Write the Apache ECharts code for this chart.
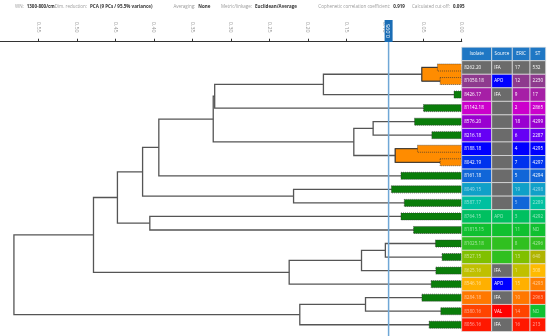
<!DOCTYPE html>
<html>
<head>
<meta charset="utf-8">
<script src="https://cdn.jsdelivr.net/npm/echarts@6/dist/echarts.min.js"></script>
<style>
html,body{margin:0;padding:0;background:#fff;}
#chart{width:550px;height:336px;}
</style>
</head>
<body>
<div id="chart"></div>
<script>
// ---------------- data ----------------
const isolates = ['8262.20','81050.18','8426.17','81142.18','8576.20','8216.18','8188.18','8042.19','8161.18','8049.15','8587.17','8764.15','81815.15','81025.18','8527.15','8625.16','8546.16','8284.18','8380.16','8056.16'];
const sources = ['IFA','APO','IFA','','','','','','','','','APO','','','','IFA','APO','IFA','VAL','IFA'];
const erics = ['17','12','9','2','18','6','4','7','5','19','5','3','11','8','13','1','15','10','14','16'];
const sts = ['532','2230','17','2865','4299','2287','4295','4297','4294','4298','2289','4292','ND','4296','640','308','4293','2963','ND','213'];
const tableHeaders = ['Isolate','Source','ERIC','ST'];
// distance at which each leaf's own bar starts
const leafSpread = [0.0315,0.028,0.010,0.0497,0.0613,0.0388,0.0574,0.028,0.0789,0.0914,0.0746,0.0789,0.0626,0.0341,0.0255,0.0336,0.0397,0.0517,0.0272,0.0423];
// linkage: [childA, childB, distance]; leaves 0..19, internal nodes 20..
const linkage = [
  [0, 1, 0.0517],
  [6, 7, 0.0863],
  [13, 14, 0.0992],
  [4, 5, 0.1151],
  [17, 18, 0.1250],
  [22, 15, 0.1302],
  [23, 21, 0.1402],
  [20, 2, 0.1797],
  [24, 19, 0.2104],
  [9, 10, 0.2185],
  [25, 16, 0.2242],
  [27, 3, 0.3210],
  [31, 26, 0.3229],
  [32, 8, 0.3936],
  [11, 12, 0.4053],
  [33, 29, 0.4147],
  [35, 34, 0.4474],
  [36, 30, 0.4785],
  [37, 28, 0.5819]
];
const cutoff = 0.095;
const axisMin = 0, axisMax = 0.6, axisInterval = 0.05;
const infoLabels = ['WN:', 'Dim. reduction:', 'Averaging:', 'Metric/linkage:', 'Cophenetic correlation coefficient:', 'Calculated cut-off:'];
const infoValues = ['1300-800/cm', 'PCA (9 PCs / 95.5% variance)', 'None', 'Euclidean/Average', '0.919', '0.095'];

// ---------------- styles / layout ----------------
const isolateColors = ['#6b6b6b','#8e3a8e','#a61fa6','#cc00cc','#9a00d0','#6600f5','#0000ff','#0033ee','#1166d8','#10a0c8','#00c0a0','#00c060','#10c030','#30c020','#80c000','#c0c000','#ffb000','#ff7800','#ff4400','#ff1800'];
const sourceColors = ['#6b6b6b','#0000ff','#6b6b6b','#6b6b6b','#6b6b6b','#6b6b6b','#6b6b6b','#6b6b6b','#6b6b6b','#6b6b6b','#6b6b6b','#00c060','#10c030','#30c020','#30c020','#6b6b6b','#0000ff','#6b6b6b','#ff0000','#6b6b6b'];
const ericColors = ['#6b6b6b','#8e3a8e','#a61fa6','#cc00cc','#9a00d0','#6600f5','#0000ff','#0033ee','#1166d8','#10a0c8','#1166d8','#00c060','#10c030','#30c020','#80c000','#c0c000','#ffb000','#ff7800','#ff4400','#ff1800'];
const stColors = ['#6b6b6b','#8e3a8e','#a61fa6','#cc00cc','#9a00d0','#6600f5','#0000ff','#0033ee','#1166d8','#10a0c8','#00c0a0','#00c060','#10c030','#30c020','#b0b400','#ffba00','#ff8000','#ff4000','#10c030','#ff1800'];
const infoValueX = [26.7, 90, 198.3, 255, 393.3, 453];
const colWidths = [30, 20.6, 17.7, 15.7];
const FONT = 'Open Sans';

// ---------------- tree geometry (value space) ----------------
const n = isolates.length;
const nodeY = [], nodeH = [], nodeLeaves = [];
for (let i = 0; i < n; i++) { nodeY[i] = i; nodeH[i] = 0; nodeLeaves[i] = [i]; }
linkage.forEach((m, k) => {
  nodeY[n + k] = (nodeY[m[0]] + nodeY[m[1]]) / 2;
  nodeH[n + k] = m[2];
  nodeLeaves[n + k] = nodeLeaves[m[0]].concat(nodeLeaves[m[1]]);
});
const parentH = {};
linkage.forEach((m, k) => { parentH[m[0]] = m[2]; parentH[m[1]] = m[2]; });
const clusterNodes = [];
const inCluster = new Array(n).fill(false);
linkage.forEach((m, k) => {
  const id = n + k;
  if (m[2] < cutoff && (parentH[id] === undefined || parentH[id] >= cutoff)) {
    clusterNodes.push(k);
    nodeLeaves[id].forEach(l => inCluster[l] = true);
  }
});

const tableCells = [];
for (let r = -1; r < n; r++) for (let c = 0; c < 4; c++) tableCells.push([c, r]);

const chart = echarts.init(document.getElementById('chart'), null, {renderer: 'canvas'});

const graphics = [];
infoLabels.forEach((t, i) => {
  graphics.push({type: 'text', x: infoValueX[i] - 3, y: 6.5, silent: true,
    style: {text: t, fill: '#9a9a9a', fontSize: 4.5, fontFamily: FONT, verticalAlign: 'middle', align: 'right'}});
  graphics.push({type: 'text', x: infoValueX[i], y: 6.5, silent: true,
    style: {text: infoValues[i], fill: '#333', fontSize: 4.5, fontWeight: 'bold', fontFamily: FONT, verticalAlign: 'middle', align: 'left'}});
});

const option = {
  animation: false,
  backgroundColor: '#fff',
  graphic: graphics,
  grid: {left: -2.3, right: 88.3, top: 60.73, height: 270.8, containLabel: false},
  xAxis: {
    type: 'value', inverse: true, min: axisMin, max: axisMax, interval: axisInterval,
    position: 'top', offset: 19,
    axisLine: {show: true, onZero: false, lineStyle: {color: '#333', width: 1.2}},
    axisTick: {show: true, length: 3, lineStyle: {color: '#333', width: 1}},
    axisLabel: {show: true, rotate: 90, margin: 9, fontSize: 5.5, color: '#9a9a9a', fontFamily: FONT,
      showMaxLabel: false, formatter: v => v.toFixed(2)},
    splitLine: {show: false}
  },
  yAxis: {type: 'value', inverse: true, min: -0.5, max: n - 0.5, show: false},
  series: [
    {
      // dendrogram branches
      type: 'custom', silent: true, clip: false, z: 2,
      data: linkage.map((m, k) => [m[2], nodeY[n + k]]),
      renderItem: (params, api) => {
        const m = linkage[params.dataIndex];
        const a = m[0], b = m[1], h = m[2];
        const pts = [
          api.coord([nodeH[a], nodeY[a]]),
          api.coord([h, nodeY[a]]),
          api.coord([h, nodeY[b]]),
          api.coord([nodeH[b], nodeY[b]])
        ];
        return {type: 'polyline', shape: {points: pts}, style: {stroke: '#555', lineWidth: 1.3, fill: null}};
      }
    },
    {
      // cluster boxes (below cut-off)
      type: 'custom', silent: true, clip: false, z: 3,
      data: clusterNodes.map(k => [linkage[k][2], nodeY[n + k]]),
      renderItem: (params, api) => {
        const k = clusterNodes[params.dataIndex];
        const m = linkage[k];
        const p1 = api.coord([m[2], nodeY[m[0]]]);
        const p2 = api.coord([0, nodeY[m[1]]]);
        return {type: 'rect', shape: {x: p1[0], y: p1[1], width: p2[0] - p1[0], height: p2[1] - p1[1]},
          style: {fill: '#ff8c00', stroke: '#333', lineWidth: 0.9}};
      }
    },
    {
      // leaf bars
      type: 'custom', silent: true, clip: false, z: 4,
      data: leafSpread.map((v, i) => [v, i]),
      renderItem: (params, api) => {
        const i = params.dataIndex;
        const p1 = api.coord([leafSpread[i], i]);
        const p2 = api.coord([0, i]);
        return {type: 'rect', shape: {x: p1[0], y: p1[1] - 3.5, width: p2[0] - p1[0], height: 7},
          style: {fill: inCluster[i] ? '#ff8c00' : '#0a7d0a', stroke: '#333', lineWidth: 0.7, lineDash: [1, 1]}};
      }
    },
    {
      // table
      type: 'custom', silent: true, clip: false, z: 5,
      data: tableCells,
      renderItem: (params, api) => {
        const c = tableCells[params.dataIndex][0], r = tableCells[params.dataIndex][1];
        const x0 = api.coord([0, 0])[0];
        let x = x0;
        for (let j = 0; j < c; j++) x += colWidths[j];
        const w = colWidths[c];
        const yc = api.coord([0, r])[1];
        const h = api.size([0, 1])[1];
        let fill, text, tcol = '#fff', align = 'left', tx = x + 2.5;
        if (r < 0) {
          fill = '#1f77c4'; text = tableHeaders[c]; align = 'center'; tx = x + w / 2;
        } else {
          const cols = [isolateColors, sourceColors, ericColors, stColors][c];
          const txts = [isolates, sources, erics, sts][c];
          fill = cols[r]; text = txts[r];
          const isNeutral = (c === 1 && (fill === '#6b6b6b' || fill === '#0000ff' || fill === '#ff0000'));
          if (r >= 9 && !isNeutral) tcol = 'rgba(255,255,255,0.6)';
        }
        return {type: 'group', children: [
          {type: 'rect', shape: {x: x, y: yc - h / 2, width: w, height: h},
            style: {fill: fill, stroke: '#e4e4e4', lineWidth: 0.7}},
          {type: 'text', x: tx, y: yc,
            style: {text: text, fill: tcol, fontSize: 4.6, fontFamily: FONT, align: align, verticalAlign: 'middle'}}
        ]};
      }
    },
    {
      // cut-off marker
      type: 'custom', silent: true, clip: false, z: 10,
      data: [[cutoff, 0]],
      renderItem: (params, api) => {
        const x = api.coord([cutoff, 0])[0];
        return {type: 'group', children: [
          {type: 'line', shape: {x1: x, y1: 41, x2: x, y2: 336}, style: {stroke: '#6fa7d6', lineWidth: 1.5}},
          {type: 'rect', shape: {x: x - 4, y: 20, width: 8, height: 22}, style: {fill: '#1a6db5'}},
          {type: 'text', x: x, y: 31, rotation: Math.PI / 2,
            style: {text: cutoff.toFixed(3), fill: '#fff', fontSize: 5.5, fontFamily: FONT, align: 'center', verticalAlign: 'middle'}}
        ]};
      }
    }
  ]
};
chart.setOption(option);
</script>
</body>
</html>
